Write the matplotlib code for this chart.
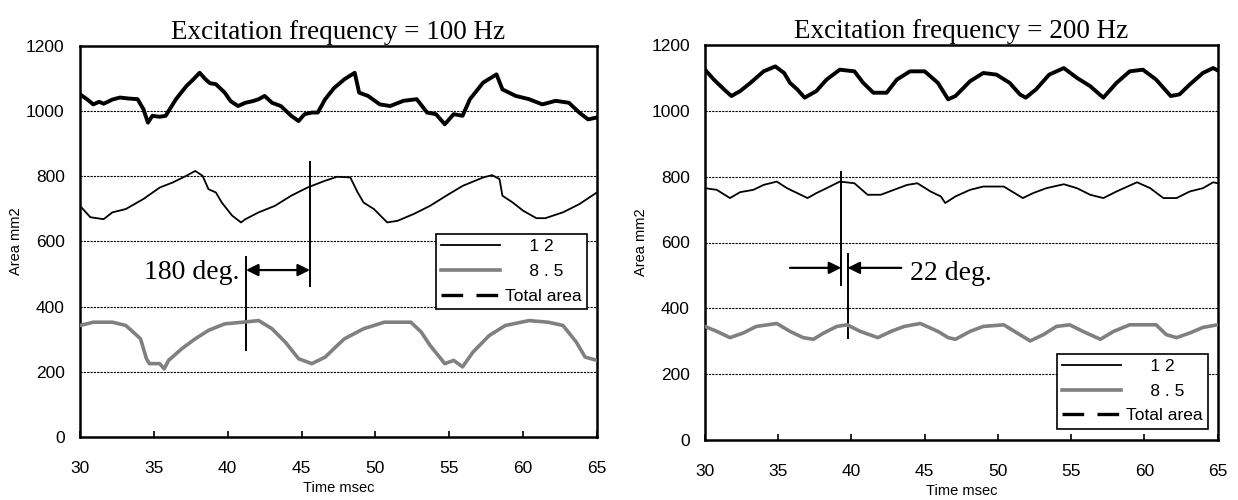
import numpy as np
import matplotlib
matplotlib.use("Agg")
import matplotlib.pyplot as plt
from matplotlib.lines import Line2D

plt.rcParams["font.family"] = ["Liberation Sans", "DejaVu Sans"]

GRAY = "#808080"

# --- 100 Hz panel (left) ---
t_total_100 = [30.0, 30.5, 30.9, 31.3, 31.6, 32.2, 32.7, 33.3, 33.9, 34.3, 34.6, 34.9,
               35.4, 35.8, 36.5, 37.2, 37.7, 38.1, 38.5, 38.8, 39.2, 39.8, 40.2, 40.7,
               41.2, 41.7, 42.1, 42.5, 43.0, 43.6, 44.3, 44.8, 45.2, 45.7, 46.1, 46.6,
               47.2, 47.9, 48.6, 48.9, 49.5, 50.3, 51.0, 51.9, 52.8, 53.5, 54.1, 54.7,
               55.3, 55.9, 56.4, 57.3, 58.2, 58.6, 59.5, 60.4, 61.3, 62.2, 63.1, 63.8,
               64.4, 65.0]
total_100 = [1051, 1035, 1020, 1028, 1022, 1035, 1041, 1038, 1036, 1005, 964, 985,
             982, 985, 1036, 1076, 1098, 1117, 1097, 1085, 1082, 1056, 1030, 1015,
             1025, 1030, 1036, 1046, 1025, 1015, 985, 969, 990, 995, 995, 1036,
             1070, 1097, 1117, 1056, 1046, 1020, 1015, 1031, 1036, 995, 990, 959,
             990, 985, 1036, 1087, 1112, 1066, 1046, 1036, 1020, 1031, 1025, 995,
             974, 980]

t_12_100 = [30.0, 30.7, 31.6, 32.2, 33.1, 34.3, 35.4, 36.3, 37.2, 37.8, 38.3, 38.7,
            39.2, 39.6, 40.3, 40.9, 41.2, 42.1, 43.2, 44.3, 45.4, 46.6, 47.4, 48.3,
            48.8, 49.2, 49.9, 50.8, 51.5, 52.6, 53.7, 54.8, 55.9, 57.3, 57.9, 58.4,
            58.6, 59.3, 60.0, 60.9, 61.5, 62.7, 63.8, 65.0]
s12_100 = [709, 674, 668, 689, 699, 730, 765, 781, 801, 816, 801, 760,
           750, 719, 679, 658, 668, 689, 709, 740, 765, 786, 798, 796,
           750, 719, 699, 658, 663, 684, 709, 740, 770, 796, 803, 791,
           740, 719, 694, 671, 671, 689, 714, 750]

t_85_100 = [30.0, 30.9, 32.2, 33.1, 33.6, 34.1, 34.5, 34.7, 35.4, 35.7, 36.0, 36.9,
            37.8, 38.7, 39.8, 41.0, 42.1, 43.0, 43.9, 44.8, 45.7, 46.6, 47.4, 47.9,
            49.2, 50.6, 52.4, 53.1, 53.7, 54.7, 55.3, 55.9, 56.6, 57.7, 58.8, 60.4,
            61.7, 62.7, 63.6, 64.2, 65.0]
s85_100 = [342, 352, 352, 342, 322, 301, 240, 225, 225, 209, 235, 271,
           301, 327, 347, 352, 357, 332, 291, 240, 225, 245, 280, 301,
           332, 352, 352, 322, 281, 225, 235, 215, 260, 311, 342, 357,
           352, 342, 291, 245, 235]

# --- 200 Hz panel (right) ---
t_total_200 = [30.0, 30.6, 31.3, 31.8, 32.4, 33.1, 34.0, 34.8, 35.4, 35.8, 36.3, 36.8,
               37.6, 38.3, 39.2, 40.2, 40.8, 41.5, 42.4, 43.1, 44.0, 45.0, 45.9, 46.6,
               47.1, 48.1, 49.0, 49.9, 50.8, 51.5, 51.9, 52.6, 53.5, 54.5, 55.4, 56.3,
               57.2, 58.1, 59.0, 59.9, 60.8, 61.8, 62.4, 63.1, 64.0, 64.7, 65.0]
total_200 = [1125, 1095, 1065, 1045, 1060, 1085, 1120, 1135, 1115, 1085, 1065, 1040,
             1060, 1095, 1125, 1120, 1085, 1055, 1055, 1095, 1120, 1120, 1085, 1035,
             1045, 1090, 1115, 1110, 1085, 1050, 1040, 1065, 1110, 1130, 1100, 1075,
             1040, 1085, 1120, 1125, 1095, 1045, 1050, 1080, 1115, 1130, 1123]

t_12_200 = [30.0, 30.8, 31.7, 32.4, 33.3, 34.0, 34.9, 35.6, 36.3, 37.0, 37.6, 38.3,
            39.2, 40.2, 41.1, 42.0, 42.9, 43.8, 44.5, 45.4, 46.1, 46.4, 47.1, 48.1,
            49.0, 50.4, 51.7, 52.4, 53.3, 54.5, 55.4, 56.3, 57.2, 58.1, 59.5, 60.4,
            61.3, 62.2, 63.1, 64.0, 64.7, 65.0]
s12_200 = [765, 760, 735, 753, 760, 775, 785, 765, 750, 735, 750, 765,
           785, 780, 745, 745, 760, 775, 780, 755, 740, 720, 740, 760,
           770, 770, 735, 750, 765, 777, 765, 745, 735, 755, 783, 765,
           735, 735, 755, 765, 783, 780]

t_85_200 = [30.0, 30.8, 31.7, 32.6, 33.5, 34.9, 35.8, 36.7, 37.4, 38.1, 39.0, 39.7,
            40.6, 41.8, 42.7, 43.6, 44.7, 45.9, 46.6, 47.1, 48.1, 49.0, 50.4, 51.5,
            52.2, 53.1, 54.0, 54.9, 55.8, 57.0, 57.9, 59.0, 60.8, 61.5, 62.2, 63.1,
            64.0, 65.0]
s85_200 = [345, 330, 311, 325, 345, 354, 330, 311, 306, 325, 345, 350,
           330, 311, 330, 345, 354, 330, 311, 306, 330, 345, 350, 320,
           301, 320, 345, 350, 330, 306, 330, 350, 350, 320, 311, 325,
           342, 350]

titles = ["Excitation frequency = 100 Hz", "Excitation frequency = 200 Hz"]
legend_labels = ["     1 2", "     8 . 5", "Total area"]


def style_axes(ax, title):
    ax.set_xlim(30, 65)
    ax.set_ylim(0, 1200)
    ax.set_xticks(range(30, 66, 5))
    ax.set_yticks(range(0, 1201, 200))
    ax.tick_params(axis="x", direction="in", length=4, width=1.2, labelsize=12.5, pad=17)
    ax.tick_params(axis="y", length=0, labelsize=12.5, pad=11)
    for sp in ax.spines.values():
        sp.set_linewidth(1.8)
    for yv in range(200, 1200, 200):
        ax.axhline(yv, color="black", lw=0.8, ls=(0, (2, 1)), zorder=1)
    ax.set_xlabel("Time msec", fontsize=10.5, labelpad=4)
    ax.set_ylabel("Area mm2", fontsize=10.5, labelpad=2)
    ax.set_title(title, fontsize=19.5, family=["Liberation Serif"], pad=5)


def add_legend(ax, anchor):
    handles = [Line2D([], [], color="black", lw=1.3),
               Line2D([], [], color=GRAY, lw=2.6),
               Line2D([], [], color="black", lw=2.4, dashes=(6.5, 4))]
    leg = ax.legend(handles, legend_labels, loc="lower right", bbox_to_anchor=anchor,
                    fontsize=12.5, handlelength=3.4, handletextpad=0.3,
                    labelspacing=0.55, borderpad=0.3, borderaxespad=0,
                    fancybox=False, framealpha=1, edgecolor="black")
    leg.get_frame().set_linewidth(1.2)


fig = plt.figure(figsize=(12.38, 5), dpi=100)
ax1 = fig.add_axes([0.0646, 0.126, 0.4176, 0.7826])
ax2 = fig.add_axes([0.5695, 0.12, 0.414, 0.79])

# left panel
ax1.plot(t_total_100, total_100, color="black", lw=2.8, zorder=3)
ax1.plot(t_12_100, s12_100, color="black", lw=1.3, zorder=3)
ax1.plot(t_85_100, s85_100, color=GRAY, lw=2.6, zorder=3)
style_axes(ax1, titles[0])
add_legend(ax1, (0.981, 0.327))

ax1.plot([41.24, 41.24], [266, 553], color="black", lw=1.4)
ax1.plot([45.57, 45.57], [463, 842], color="black", lw=1.4)
ax1.annotate("", xy=(41.24, 512), xytext=(45.57, 512),
             arrowprops=dict(arrowstyle="<|-|>", color="black", lw=1.6,
                             mutation_scale=18, shrinkA=0, shrinkB=0))
ax1.text(40.8, 503, "180 deg.", ha="right", va="center", fontsize=20,
         family=["Liberation Serif"])

# right panel
ax2.plot(t_total_200, total_200, color="black", lw=2.8, zorder=3)
ax2.plot(t_12_200, s12_200, color="black", lw=1.3, zorder=3)
ax2.plot(t_85_200, s85_200, color=GRAY, lw=2.6, zorder=3)
style_axes(ax2, titles[1])
add_legend(ax2, (0.981, 0.029))

ax2.plot([39.3, 39.3], [470, 815], color="black", lw=1.4)
ax2.plot([39.73, 39.73], [311, 565], color="black", lw=1.4)
ax2.annotate("", xy=(39.3, 523), xytext=(35.8, 523),
             arrowprops=dict(arrowstyle="-|>", color="black", lw=1.6,
                             mutation_scale=18, shrinkA=0, shrinkB=0))
ax2.annotate("", xy=(39.73, 523), xytext=(43.4, 523),
             arrowprops=dict(arrowstyle="-|>", color="black", lw=1.6,
                             mutation_scale=18, shrinkA=0, shrinkB=0))
ax2.text(44.0, 505, "22 deg.", ha="left", va="center", fontsize=20,
         family=["Liberation Serif"])

fig.savefig("out.png", dpi=100)
